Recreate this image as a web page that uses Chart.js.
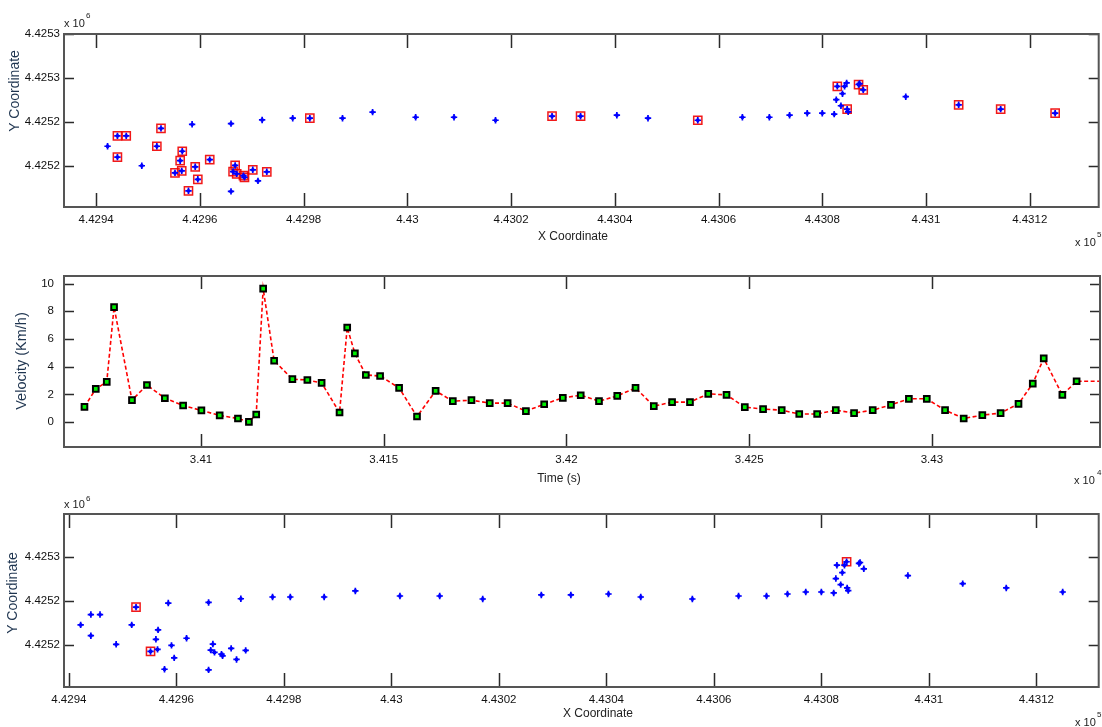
<!DOCTYPE html>
<html lang="en">
<head>
    <meta charset="UTF-8">
    <title>Position / Velocity</title>
    <script src="https://cdn.jsdelivr.net/npm/chart.js"></script>
    <style>
        body { margin: 0; background: #fff; width: 1102px; height: 727px; overflow: hidden; position: relative; }
        .panel { position: absolute; left: 0; }
    </style>
</head>
<body>
    <div class="panel" style="top:0px"><canvas id="topChart" width="1106" height="250"></canvas></div>
    <div class="panel" style="top:250px"><canvas id="velChart" width="1106" height="245"></canvas></div>
    <div class="panel" style="top:495px"><canvas id="botChart" width="1106" height="232"></canvas></div>

    <script>
        // positions (UTM-like, metres)
        const posX = [442942.2, 442944.1, 442945.8, 442944.1, 442948.8, 442951.7, 442952.5, 442955.2, 442956.2, 442956.5,
                      442956.6, 442957.8, 442958.5, 442959.1, 442959.6, 442961.9, 442966.0, 442966.0, 442966.4, 442966.8,
                      442967.1, 442968.4, 442968.6, 442970.2, 442971.2, 442972.0, 442972.9, 442977.9, 442981.2, 442987.5,
                      442993.3, 443001.6, 443009.0, 443017.0, 443027.9, 443033.4, 443040.4, 443046.4, 443056.0, 443064.6,
                      443069.8, 443073.7, 443077.1, 443080.0, 443082.3, 443082.9, 443082.7, 443083.6, 443083.9, 443084.3,
                      443084.7, 443084.8, 443085.0, 443087.0, 443087.2, 443087.9, 443096.1, 443106.3, 443114.4, 443124.9];
        const posY = [4425172.7, 4425184.5, 4425184.5, 4425160.4, 4425150.6, 4425172.7, 4425193.0, 4425142.5, 4425156.3, 4425144.8,
                      4425167.0, 4425122.2, 4425197.6, 4425149.4, 4425135.2, 4425157.5, 4425121.5, 4425198.3, 4425144.0, 4425150.9,
                      4425141.4, 4425139.4, 4425137.5, 4425146.0, 4425133.4, 4425202.5, 4425143.7, 4425204.5, 4425204.5, 4425204.5,
                      4425211.4, 4425205.6, 4425205.6, 4425202.2, 4425206.8, 4425206.8, 4425207.9, 4425204.5, 4425202.2, 4425205.6,
                      4425205.6, 4425207.9, 4425210.2, 4425210.2, 4425209.1, 4425240.7, 4425225.5, 4425218.6, 4425232.3, 4425240.7,
                      4425244.6, 4425214.8, 4425211.7, 4425242.7, 4425243.8, 4425236.6, 4425228.9, 4425219.7, 4425214.8, 4425210.2];
        // indices of the points marked with a red square
        const topMarked = [1, 2, 3, 5, 6, 7, 8, 9, 10, 11, 13, 14, 15, 18, 19, 20, 21, 22, 23, 26, 28, 34, 35, 38, 45, 51, 53, 55, 57, 58, 59];
        const botMarked = [6, 7, 50];

        // velocity vs time
        const timeSec = [34068.1, 34071.2, 34074.2, 34076.2, 34081.1, 34085.2, 34090.1, 34095.1, 34100.1, 34105.1,
                         34110.1, 34113.1, 34115.1, 34117.0, 34120.0, 34125.0, 34129.1, 34133.0, 34137.9, 34140.0,
                         34142.1, 34145.1, 34149.0, 34154.2, 34159.1, 34164.2, 34168.9, 34174.0, 34179.0, 34183.9,
                         34188.9, 34193.9, 34199.0, 34203.9, 34208.9, 34213.9, 34218.9, 34223.9, 34228.9, 34233.8,
                         34238.8, 34243.8, 34248.8, 34253.8, 34258.9, 34263.7, 34268.6, 34273.7, 34278.7, 34283.8,
                         34288.8, 34293.7, 34298.6, 34303.6, 34308.7, 34313.8, 34318.8, 34323.7, 34327.6, 34330.6,
                         34335.7, 34339.6, 34350.0];
        const velocity = [1.1, 2.4, 2.9, 8.3, 1.58, 2.68, 1.72, 1.2, 0.84, 0.48,
                          0.26, 0.02, 0.55, 9.64, 4.43, 3.1, 3.04, 2.83, 0.69, 6.83,
                          4.96, 3.4, 3.33, 2.47, 0.4, 2.25, 1.51, 1.58, 1.37, 1.37,
                          0.79, 1.29, 1.75, 1.94, 1.51, 1.89, 2.47, 1.15, 1.44, 1.44,
                          2.04, 1.96, 1.08, 0.94, 0.86, 0.58, 0.58, 0.86, 0.65, 0.86,
                          1.24, 1.68, 1.68, 0.86, 0.26, 0.5, 0.65, 1.32, 2.78, 4.6,
                          1.96, 2.95, 2.95];

        // ticks
        const coordXTicks = [442940, 442960, 442980, 443000, 443020, 443040, 443060, 443080, 443100, 443120];
        const coordXLabels = ['4.4294', '4.4296', '4.4298', '4.43', '4.4302', '4.4304', '4.4306', '4.4308', '4.431', '4.4312'];
        const topYTicks = [4425300, 4425250, 4425200, 4425150];
        const topYLabels = ['4.4253', '4.4253', '4.4252', '4.4252'];
        const botYTicks = [4425250, 4425200, 4425150];
        const botYLabels = ['4.4253', '4.4252', '4.4252'];
        const timeTicks = [34100, 34150, 34200, 34250, 34300];
        const timeLabels = ['3.41', '3.415', '3.42', '3.425', '3.43'];
        const velTicks = [0, 2, 4, 6, 8, 10];
        const velLabels = ['0', '2', '4', '6', '8', '10'];

        Chart.defaults.font.family = '"Liberation Sans", Arial, sans-serif';
        Chart.defaults.color = '#111';

        const pick = idx => idx.map(i => ({ x: posX[i], y: posY[i] }));
        const allPts = posX.map((x, i) => ({ x: x, y: posY[i] }));

        // MATLAB-like box with inward ticks on all sides + extra texts
        function framePlugin(cfg) {
            return {
                id: 'frame',
                afterDraw(chart) {
                    const ctx = chart.ctx, a = chart.chartArea;
                    const xs = chart.scales.x, ys = chart.scales.y;
                    ctx.save();
                    ctx.strokeStyle = '#2b2b2b';
                    ctx.lineWidth = 1.5;
                    ctx.beginPath();
                    xs.ticks.forEach(t => {
                        const p = Math.round(xs.getPixelForValue(t.value)) + 0.5;
                        if (p < a.left || p > a.right) return;
                        ctx.moveTo(p, a.bottom); ctx.lineTo(p, a.bottom - cfg.xLen);
                        ctx.moveTo(p, a.top); ctx.lineTo(p, a.top + cfg.xLen);
                    });
                    ys.ticks.forEach(t => {
                        const p = Math.round(ys.getPixelForValue(t.value)) + 0.5;
                        if (p < a.top - 1 || p > a.bottom) return;
                        ctx.moveTo(a.left, p); ctx.lineTo(a.left + cfg.yLen, p);
                        ctx.moveTo(a.right, p); ctx.lineTo(a.right - cfg.yLen, p);
                    });
                    ctx.stroke();
                    ctx.strokeStyle = '#555';
                    ctx.lineWidth = 2;
                    ctx.strokeRect(a.left, a.top, a.right - a.left, a.bottom - a.top);
                    cfg.texts.forEach(tx => {
                        ctx.save();
                        ctx.font = tx.font;
                        ctx.fillStyle = tx.color || '#1a1a1a';
                        ctx.textAlign = tx.align || 'center';
                        ctx.textBaseline = 'middle';
                        ctx.translate(tx.x, tx.y);
                        if (tx.rot) ctx.rotate(tx.rot);
                        ctx.fillText(tx.text, 0, 0);
                        ctx.restore();
                    });
                    ctx.restore();
                }
            };
        }

        function axisX(min, max, ticks, labels, height, pad) {
            return {
                type: 'linear', min: min, max: max,
                grid: { display: false, drawTicks: false },
                border: { display: false },
                afterBuildTicks: s => { s.ticks = ticks.map(v => ({ value: v })); },
                afterFit: s => { s.height = height; s.paddingLeft = 0; s.paddingRight = 0; },
                ticks: {
                    autoSkip: false, maxRotation: 0, padding: pad,
                    font: { size: 11.5 },
                    callback: (v, i) => labels[i]
                }
            };
        }
        function axisY(min, max, ticks, labels, pad) {
            return {
                type: 'linear', min: min, max: max,
                grid: { display: false, drawTicks: false },
                border: { display: false },
                afterBuildTicks: s => { s.ticks = ticks.map(v => ({ value: v })); },
                afterFit: s => { s.width = 64; s.paddingTop = 0; s.paddingBottom = 0; },
                ticks: {
                    autoSkip: false, padding: pad,
                    font: { size: 11.5 },
                    callback: (v, i) => labels[i]
                }
            };
        }

        const blueDot = { pointStyle: 'circle', pointRadius: 1.9, backgroundColor: '#0000ff', borderColor: '#0000ff', borderWidth: 0 };
        const blueCross = { pointStyle: 'cross', pointRadius: 3.2, borderColor: '#0000ff', borderWidth: 1.7 };
        const redBox = { pointStyle: 'rect', pointRadius: 5.8, borderColor: 'rgba(240,0,0,0.9)', backgroundColor: 'rgba(255,120,120,0.12)', borderWidth: 1.5 };

        const baseOpts = {
            responsive: false,
            animation: false,
            events: [],
            plugins: { legend: { display: false }, tooltip: { enabled: false } }
        };

        function coordChart(id, marked, yMin, yMax, yTicks, yLabels, xMin, xMax, padTop, xHeight, texts) {
            new Chart(document.getElementById(id), {
                type: 'scatter',
                data: {
                    datasets: [
                        Object.assign({ data: allPts }, blueDot),
                        Object.assign({ data: allPts }, blueCross),
                        Object.assign({ data: pick(marked) }, redBox)
                    ]
                },
                options: Object.assign({}, baseOpts, {
                    layout: { padding: { top: padTop, right: 0, left: 0, bottom: 0 } },
                    scales: {
                        x: axisX(xMin, xMax, coordXTicks, coordXLabels, xHeight, 6),
                        y: axisY(yMin, yMax, yTicks, yLabels, 4)
                    }
                }),
                plugins: [framePlugin({ xLen: 14, yLen: 10, texts: texts })]
            });
        }

        const titleBlue = '#1f3550';

        coordChart('topChart', topMarked, 4425103.8, 4425300, topYTicks, topYLabels, 442933.8, 443133.3, 34, 43, [
            { text: 'Y Coordinate', x: 15, y: 91, rot: -Math.PI / 2, font: '14px "Liberation Sans"', color: titleBlue },
            { text: 'X Coordinate', x: 573, y: 237, font: '12px "Liberation Sans"', color: '#222' },
            { text: 'x 10', x: 64, y: 24, align: 'left', font: '11px "Liberation Sans"' },
            { text: '6', x: 86, y: 16, align: 'left', font: '8px "Liberation Sans"' },
            { text: 'x 10', x: 1075, y: 243, align: 'left', font: '11px "Liberation Sans"' },
            { text: '5', x: 1097, y: 235, align: 'left', font: '8px "Liberation Sans"' }
        ]);

        new Chart(document.getElementById('velChart'), {
            type: 'scatter',
            data: {
                datasets: [{
                    data: timeSec.map((t, i) => ({ x: t, y: velocity[i] })),
                    showLine: true,
                    borderColor: '#ff0000',
                    borderWidth: 1.6,
                    borderDash: [4, 2.5],
                    pointStyle: 'rect',
                    pointRadius: 4,
                    pointBackgroundColor: '#00ee00',
                    pointBorderColor: '#000',
                    pointBorderWidth: 2
                }]
            },
            options: Object.assign({}, baseOpts, {
                layout: { padding: { top: 26, right: 0, left: 0, bottom: 0 } },
                scales: {
                    x: axisX(34062.5, 34346, timeTicks, timeLabels, 48, 6),
                    y: axisY(-1.8, 10.55, velTicks, velLabels, 10)
                }
            }),
            plugins: [framePlugin({ xLen: 13, yLen: 10, texts: [
                { text: 'Velocity (Km/h)', x: 22, y: 111, rot: -Math.PI / 2, font: '14.5px "Liberation Sans"', color: titleBlue },
                { text: 'Time (s)', x: 559, y: 229, font: '12px "Liberation Sans"', color: '#222' },
                { text: 'x 10', x: 1074, y: 231, align: 'left', font: '11px "Liberation Sans"' },
                { text: '4', x: 1097, y: 223, align: 'left', font: '8px "Liberation Sans"' }
            ] })]
        });

        coordChart('botChart', botMarked, 4425102, 4425299, botYTicks, botYLabels, 442939.1, 443131.6, 19, 40, [
            { text: 'Y Coordinate', x: 13, y: 98, rot: -Math.PI / 2, font: '14px "Liberation Sans"', color: titleBlue },
            { text: 'X Coordinate', x: 598, y: 219, font: '12px "Liberation Sans"', color: '#222' },
            { text: 'x 10', x: 64, y: 10, align: 'left', font: '11px "Liberation Sans"' },
            { text: '6', x: 86, y: 4, align: 'left', font: '8px "Liberation Sans"' },
            { text: 'x 10', x: 1075, y: 228, align: 'left', font: '11px "Liberation Sans"' },
            { text: '5', x: 1097, y: 220, align: 'left', font: '8px "Liberation Sans"' }
        ]);
    </script>
</body>
</html>
